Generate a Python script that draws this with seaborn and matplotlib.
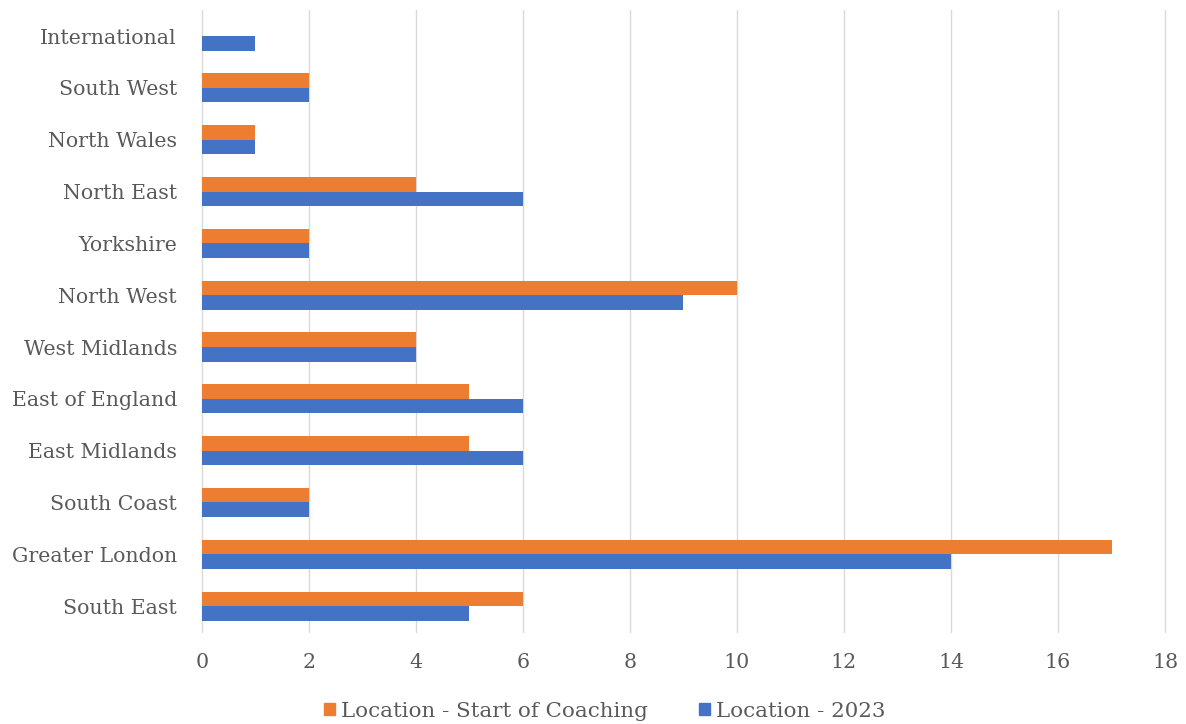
import matplotlib
matplotlib.use("Agg")
import matplotlib.pyplot as plt
import seaborn as sns
import pandas as pd

categories = ["International", "South West", "North Wales", "North East", "Yorkshire",
              "North West", "West Midlands", "East of England", "East Midlands",
              "South Coast", "Greater London", "South East"]
start_of_coaching = [0, 2, 1, 4, 2, 10, 4, 5, 5, 2, 17, 6]
loc_2023 = [1, 2, 1, 6, 2, 9, 4, 6, 6, 2, 14, 5]
series_names = ["Location - Start of Coaching", "Location - 2023"]
colors = ["#ED7D31", "#4472C4"]

df = pd.DataFrame({
    "Region": categories * 2,
    "Count": start_of_coaching + loc_2023,
    "Series": [series_names[0]] * len(categories) + [series_names[1]] * len(categories),
})

sns.set_theme(style="white")
plt.rcParams["font.family"] = ["DejaVu Serif"]
txt = "#595959"
fs = 14.8

fig = plt.figure(figsize=(11.86, 7.24), dpi=100)
ax = fig.add_axes([0.1703, 0.127, 0.812, 0.859])
sns.barplot(data=df, y="Region", x="Count", hue="Series", order=categories,
            hue_order=series_names, palette=colors, width=0.56, orient="h",
            saturation=1, ax=ax, errorbar=None, linewidth=0)

ax.set_xlim(0, 18)
ax.set_xticks(range(0, 19, 2))
ax.grid(axis="x", color="#D9D9D9", linewidth=1)
for gl in ax.get_xgridlines():
    gl.set_clip_on(False)
ax.set_axisbelow(True)
for s in ax.spines.values():
    s.set_visible(False)
ax.set_xlabel("")
ax.set_ylabel("")
ax.tick_params(axis="both", colors=txt, labelsize=fs, length=0)
ax.tick_params(axis="x", pad=15)
ax.tick_params(axis="y", pad=18)
for lab in ax.get_xticklabels() + ax.get_yticklabels():
    lab.set_color(txt)

ax.legend_.remove()
handles = [plt.Rectangle((0, 0), 1, 1, color=c) for c in colors]
fig.legend(handles, series_names, loc="lower center", ncol=2, frameon=False,
           bbox_to_anchor=(0.51, -0.022), fontsize=15.4, labelcolor=txt,
           handlelength=0.5, handleheight=0.5, handletextpad=0.3, columnspacing=2.4)

fig.savefig("out.png", dpi=100)
